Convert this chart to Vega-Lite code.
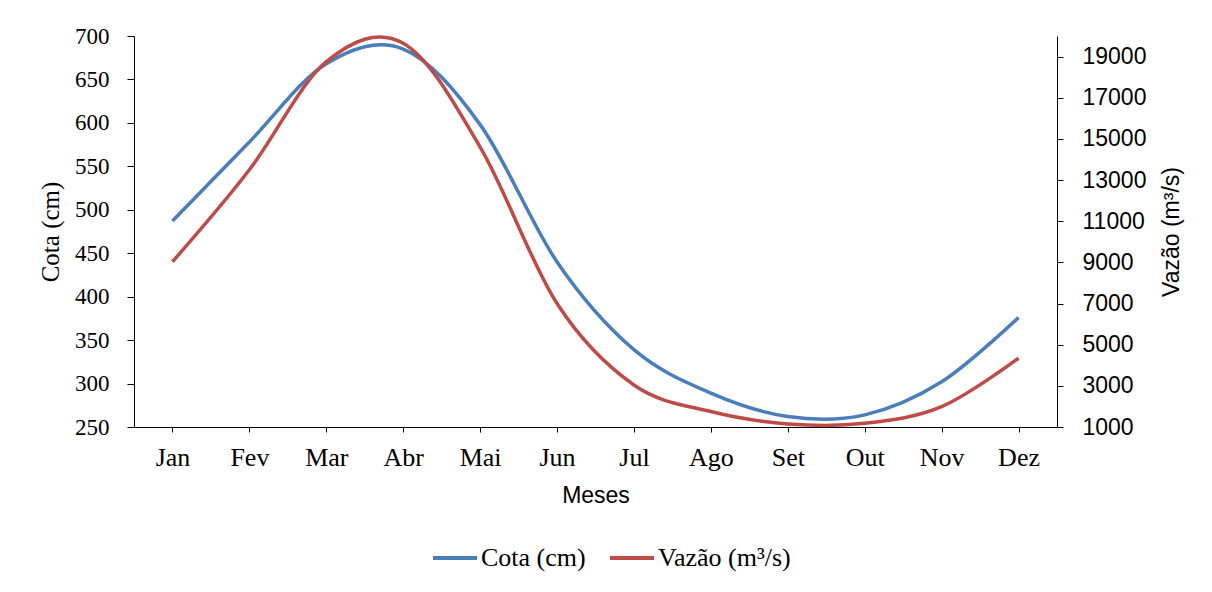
{
  "$schema": "https://vega.github.io/schema/vega-lite/v6.json",
  "width": 923,
  "height": 391,
  "autosize": {"type": "none"},
  "padding": {"left": 134, "top": 36, "right": 155, "bottom": 165},
  "background": "white",
  "config": {
    "view": {"stroke": null},
    "axis": {"grid": false, "domainColor": "#000000", "tickColor": "#000000", "labelColor": "#000000", "titleColor": "#000000", "domainWidth": 1, "tickWidth": 1, "titleFontWeight": "normal"},
    "axisLeft": {"labelFont": "Liberation Serif", "labelFontSize": 23, "titleFont": "Liberation Serif", "titleFontSize": 25, "labelPadding": 18, "tickSize": 7, "titlePadding": 11},
    "axisRight": {"labelFont": "Liberation Sans", "labelFontSize": 23, "titleFont": "Liberation Sans", "titleFontSize": 23, "labelPadding": 19, "tickSize": 6},
    "legend": {"labelColor": "#000000"}
  },
  "data": {
    "values": [
      {"Mes": "Jan", "Cota": 487, "Vazao": 9030},
      {"Mes": "Fev", "Cota": 578, "Vazao": 13500},
      {"Mes": "Mar", "Cota": 668, "Vazao": 18750},
      {"Mes": "Abr", "Cota": 685, "Vazao": 19650},
      {"Mes": "Mai", "Cota": 598, "Vazao": 14600},
      {"Mes": "Jun", "Cota": 440, "Vazao": 7000},
      {"Mes": "Jul", "Cota": 339, "Vazao": 3040},
      {"Mes": "Ago", "Cota": 289, "Vazao": 1750},
      {"Mes": "Set", "Cota": 262, "Vazao": 1150},
      {"Mes": "Out", "Cota": 264, "Vazao": 1180},
      {"Mes": "Nov", "Cota": 302, "Vazao": 1990},
      {"Mes": "Dez", "Cota": 376, "Vazao": 4340}
    ]
  },
  "encoding": {
    "x": {
      "field": "Mes",
      "type": "ordinal",
      "sort": null,
      "scale": {"type": "point", "padding": 0.5},
      "axis": {
        "title": "Meses",
        "titleFont": "Liberation Sans",
        "titleFontSize": 23,
        "titlePadding": 14,
        "labelFont": "Liberation Serif",
        "labelFontSize": 26,
        "labelAngle": 0,
        "labelPadding": 12,
        "tickSize": 5
      }
    }
  },
  "layer": [
    {
      "mark": {"type": "line", "interpolate": "cardinal", "strokeWidth": 3.5},
      "encoding": {
        "y": {
          "field": "Cota",
          "type": "quantitative",
          "scale": {"domain": [250, 700], "nice": false, "zero": false},
          "axis": {
            "orient": "left",
            "title": "Cota (cm)",
            "titleFont": "Liberation Serif",
            "titleFontSize": 25,
            "titlePadding": 11,
            "labelFont": "Liberation Serif",
            "labelFontSize": 23,
            "labelPadding": 18,
            "tickSize": 7,
            "values": [250, 300, 350, 400, 450, 500, 550, 600, 650, 700],
            "format": "d"
          }
        },
        "color": {
          "datum": "Cota (cm)",
          "type": "nominal",
          "scale": {"domain": ["Cota (cm)", "Vazão (m³/s)"], "range": ["#4A7EBB", "#BE4B48"]},
          "legend": {
            "title": null,
            "orient": "none",
            "direction": "horizontal",
            "legendX": 297,
            "legendY": 498,
            "padding": 0,
            "symbolType": "stroke",
            "symbolSize": 1936,
            "symbolStrokeWidth": 4,
            "labelFont": "Liberation Serif",
            "labelFontSize": 26,
            "labelOffset": 2,
            "columnPadding": 16,
            "labelLimit": 300
          }
        }
      }
    },
    {
      "mark": {"type": "line", "interpolate": "cardinal", "strokeWidth": 3.5},
      "encoding": {
        "y": {
          "field": "Vazao",
          "type": "quantitative",
          "scale": {"domain": [1000, 20000], "nice": false, "zero": false},
          "axis": {
            "orient": "right",
            "title": "Vazão (m³/s)",
            "titleFont": "Liberation Sans",
            "titleFontSize": 23,
            "titleAngle": 270,
            "titleBaseline": "top",
            "titlePadding": 15,
            "labelFont": "Liberation Sans",
            "labelFontSize": 23,
            "labelPadding": 19,
            "tickSize": 6,
            "values": [1000, 3000, 5000, 7000, 9000, 11000, 13000, 15000, 17000, 19000],
            "format": "d"
          }
        },
        "color": {"datum": "Vazão (m³/s)", "type": "nominal"}
      }
    }
  ],
  "resolve": {"scale": {"y": "independent"}}
}
